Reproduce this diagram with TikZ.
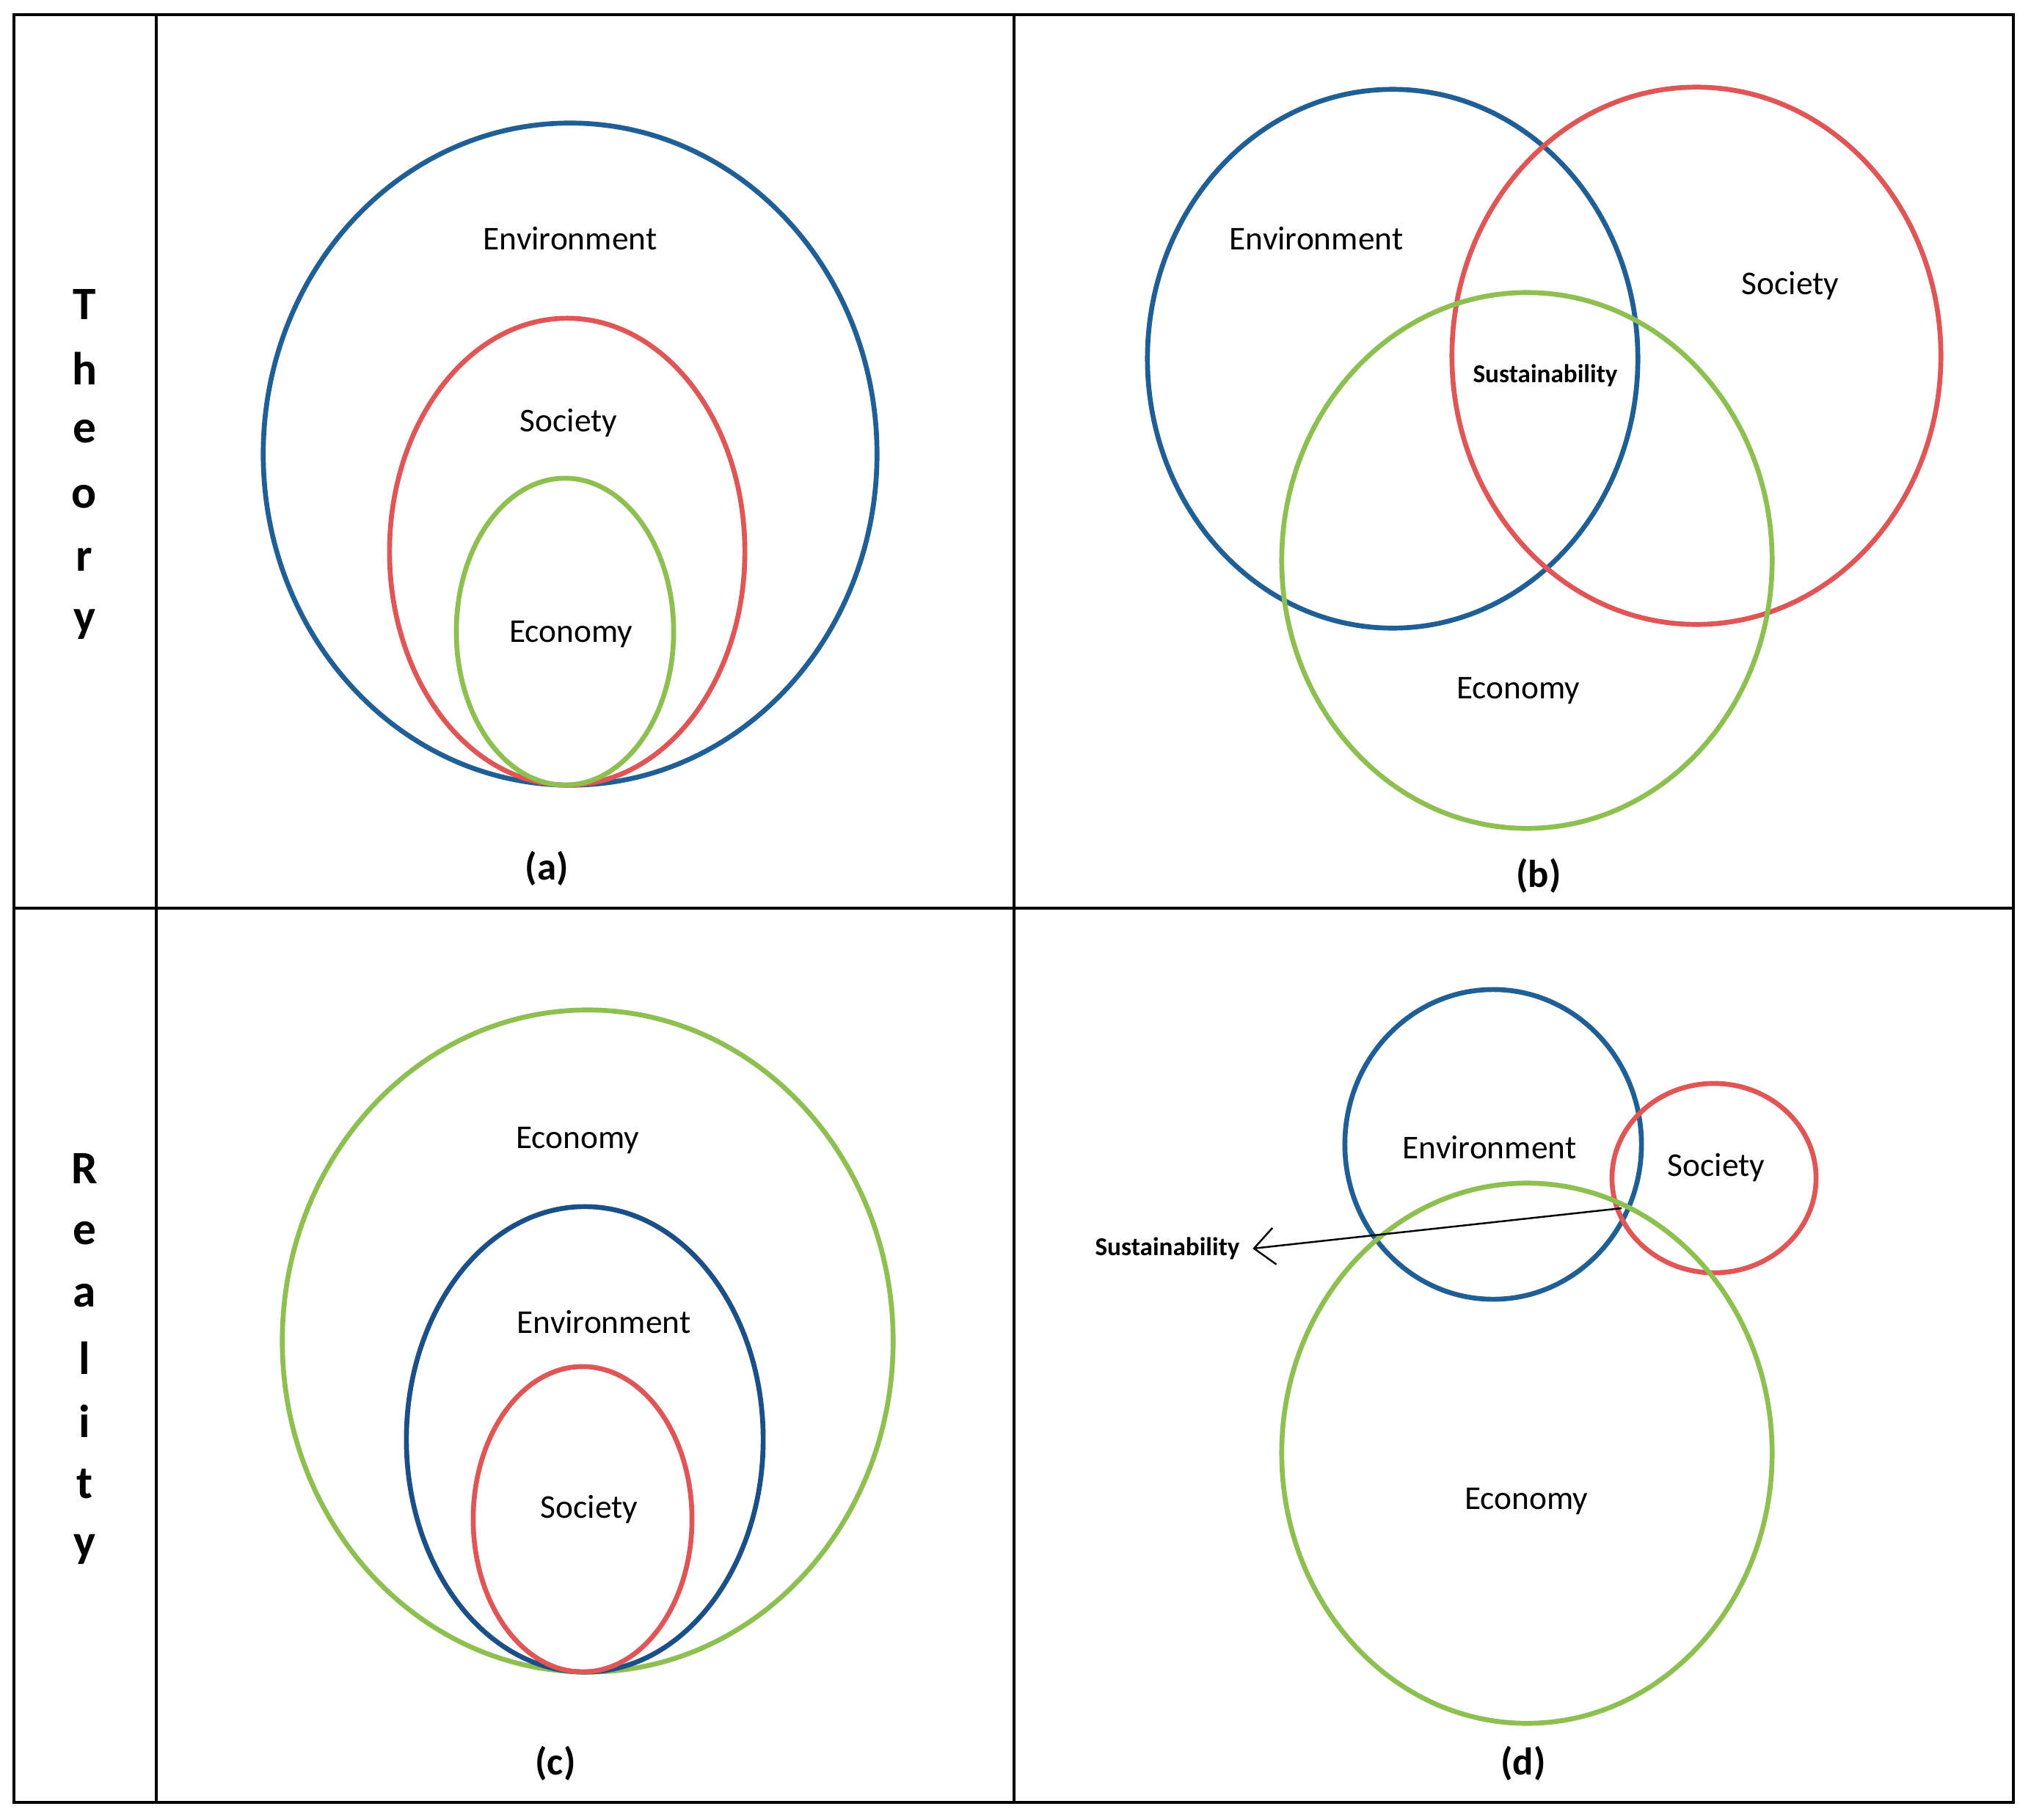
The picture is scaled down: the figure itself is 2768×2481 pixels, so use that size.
\documentclass[tikz,border=0pt]{standalone}
\usepackage{fontspec}
\setmainfont{Carlito}
\usetikzlibrary{arrows.meta}
\definecolor{cblue}{HTML}{1F5F96}
\definecolor{cdblue}{HTML}{1A4F88}
\definecolor{cred}{HTML}{E05555}
\definecolor{cgreen}{HTML}{8DC050}
\tikzset{
  frame/.style={line width=1.1pt, black},
  ring/.style={line width=1.9pt},
  lbl/.style={font=\fontsize{12.9}{15}\selectfont, inner sep=2pt, yshift=-0.05cm},
  sus/.style={font=\fontsize{10}{12}\selectfont\bfseries, inner sep=2pt, yshift=-0.04cm},
  captext/.style={font=\fontsize{15}{18}\selectfont\bfseries, inner sep=2pt, yshift=-0.04cm},
  side/.style={font=\fontsize{18}{20}\selectfont\bfseries, inner sep=1pt, yshift=-0.04cm}
}
\begin{document}
\begin{tikzpicture}[x=0.01cm,y=-0.01cm]
\useasboundingbox (0,0) rectangle (2768,2481);
\fill[white] (0,0) rectangle (2768,2481);
% table
\draw[frame] (19,20) rectangle (2744,2457);
\draw[frame] (19,1238) -- (2744,1238);
\draw[frame] (213,20) -- (213,2457);
\draw[frame] (1382,20) -- (1382,2457);
% side labels
\foreach \ch/\yy [count=\i] in {T/411,h/498,e/584,o/673,r/759,y/847}
  \node[side] (th\i) at (115,\yy) {\ch};
\foreach \ch/\yy [count=\i] in {R/1589,e/1677,a/1762,l/1847,i/1933,t/2019,y/2108}
  \node[side] (re\i) at (115,\yy) {\ch};
% (a)
\draw[ring,cblue] (777,619) ellipse [x radius=4.18cm, y radius=4.51cm];
\draw[ring,cred] (773,752) ellipse [x radius=2.42cm, y radius=3.18cm];
\draw[ring,cgreen] (770,861) ellipse [x radius=1.48cm, y radius=2.09cm];
\node[lbl] (envA) at (777,320) {Environment};
\node[lbl] (socA) at (775,572) {Society};
\node[lbl] (ecoA) at (778,860) {Economy};
\node[captext] (capA) at (745,1180) {(a)};
% (b)
\draw[ring,cblue] (1898,489) ellipse [x radius=3.34cm, y radius=3.67cm];
\draw[ring,cred] (2312,485) ellipse [x radius=3.33cm, y radius=3.66cm];
\draw[ring,cgreen] (2081,764) ellipse [x radius=3.34cm, y radius=3.65cm];
\node[lbl] (envB) at (1794,320) {Environment};
\node[lbl] (socB) at (2440,385) {Society};
\node[sus] (susB) at (2106,508) {Sustainability};
\node[lbl] (ecoB) at (2069,937) {Economy};
\node[captext] (capB) at (2097,1190) {(b)};
% (c)
\draw[ring,cgreen] (801,1828) ellipse [x radius=4.16cm, y radius=4.51cm];
\draw[ring,cdblue] (797,1962) ellipse [x radius=2.43cm, y radius=3.17cm];
\draw[ring,cred] (794,2071) ellipse [x radius=1.49cm, y radius=2.08cm];
\node[lbl] (ecoC) at (787,1550) {Economy};
\node[lbl] (envC) at (823,1797) {Environment};
\node[lbl] (socC) at (803,2053) {Society};
\node[captext] (capC) at (757,2400) {(c)};
% (d)
\draw[ring,cblue] (2035,1560) ellipse [x radius=2.02cm, y radius=2.11cm];
\draw[ring,cred] (2336,1606) ellipse [x radius=1.39cm, y radius=1.29cm];
\draw[ring,cgreen] (2081,1981) ellipse [x radius=3.34cm, y radius=3.68cm];
\node[lbl] (envD) at (2030,1559) {Environment};
\node[lbl] (socD) at (2339,1587) {Society};
\node[lbl] (ecoD) at (2080,2042) {Economy};
\node[captext] (capD) at (2076,2400) {(d)};
\node[sus] (susD) at (1591,1698) {Sustainability};
\coordinate (meet) at (2210,1647);
\draw[line width=0.7pt,-{Straight Barb[length=0.28cm,width=0.5cm]}] (meet) -- ([xshift=0.1cm]susD.east);
\end{tikzpicture}
\end{document}
